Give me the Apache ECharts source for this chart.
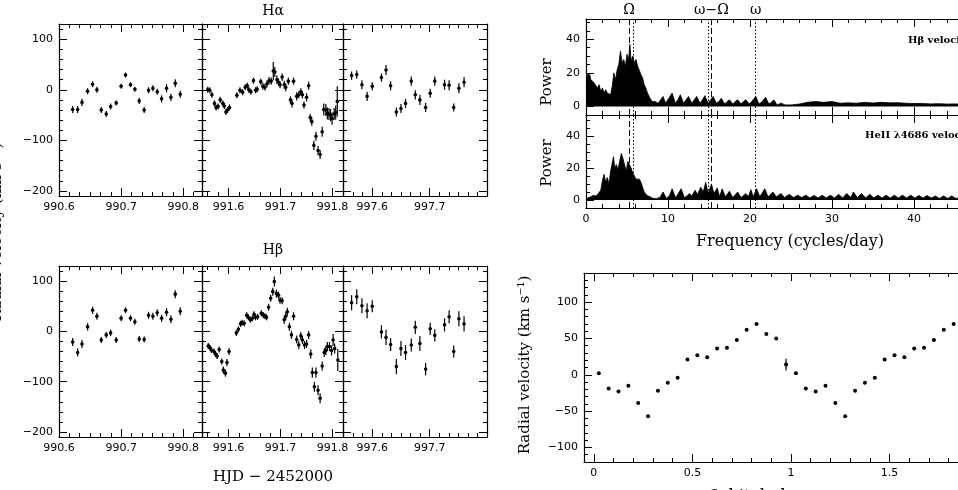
<!DOCTYPE html>
<html>
<head>
<meta charset="utf-8">
<script src="https://cdn.jsdelivr.net/npm/echarts@6/dist/echarts.min.js"></script>
<style>
  html, body { margin: 0; padding: 0; background: #fff; }
  #chart { width: 958px; height: 490px; }
</style>
</head>
<body>
<div id="chart"></div>
<script>
// ---------- data ----------
// H-alpha radial velocities, three nights (HJD - 2452000)
const haT1 = [990.622, 990.630, 990.637, 990.646, 990.654, 990.661, 990.668, 990.676, 990.683, 990.692, 990.700, 990.707,
  990.715, 990.722, 990.729, 990.737, 990.744, 990.751, 990.758, 990.765, 990.773, 990.780, 990.787, 990.795];
const haV1 = [-39, -39, -25, -3, 11, 0, -40, -48, -33, -26, 7, 29, 10, 1, -22, -40, -1, 3, -4, -18, 3, -15, 13, -9];
const haE1 = [7, 7, 7, 6, 6, 6, 6, 6, 6, 5, 5, 5, 5, 5, 6, 6, 6, 6, 6, 7, 8, 7, 8, 7];

const haT2 = [991.560, 991.564, 991.568, 991.573, 991.576, 991.580, 991.584, 991.589, 991.592, 991.595, 991.598, 991.602,
  991.616, 991.622, 991.627, 991.632, 991.636, 991.639, 991.643, 991.648, 991.652, 991.655,
  991.662, 991.666, 991.670, 991.674, 991.678, 991.682, 991.686, 991.689, 991.693, 991.696, 991.699, 991.703,
  991.707, 991.710, 991.715, 991.719, 991.722, 991.725, 991.731, 991.735, 991.739, 991.742, 991.745, 991.750,
  991.754, 991.757, 991.760, 991.764, 991.768, 991.772, 991.776, 991.780, 991.783, 991.787, 991.790, 991.793,
  991.796, 991.799, 991.803, 991.806, 991.809];
const haV2 = [0, -1, -10, -27, -35, -33, -20, -27, -32, -44, -40, -35,
  -11, -1, -5, 5, 8, 0, -4, 18, -1, 1,
  16, 7, 5, 12, 18, 17, 37, 35, 20, 15, 10, 25,
  10, 5, 17, -20, -27, 17, -13, -10, -4, -10, -30, -15,
  8, -55, -63, -110, -92, -120, -128, -83, -39, -40, -47, -48,
  -50, -57, -48, -45, -23];
const haE2 = [6, 6, 6, 6, 6, 6, 6, 6, 6, 6, 6, 6,
  6, 6, 6, 6, 6, 6, 6, 6, 6, 6,
  6, 7, 7, 7, 7, 7, 18, 10, 8, 7, 7, 7,
  8, 8, 7, 7, 8, 7, 8, 7, 7, 7, 7, 8,
  8, 7, 8, 9, 9, 9, 9, 10, 12, 12, 12, 12,
  12, 12, 12, 14, 30];

const haT3 = [997.564, 997.573, 997.582, 997.591, 997.600, 997.616, 997.624, 997.632, 997.642, 997.650, 997.658,
  997.668, 997.675, 997.683, 997.693, 997.701, 997.709, 997.726, 997.734, 997.742, 997.751, 997.760];
const haV3 = [28, 30, 10, -13, 7, 24, 39, 8, -44, -37, -27, 17, -10, -20, -35, -7, 17, 10, 9, -35, 3, 15];
const haE3 = [8, 8, 9, 9, 8, 8, 10, 9, 9, 9, 9, 9, 9, 10, 9, 9, 9, 10, 10, 8, 10, 10];

// H-beta radial velocities
const hbT1 = haT1;
const hbV1 = [-21, -42, -25, 9, 42, 30, -17, -7, -3, -17, 26, 42, 26, 19, -15, -16, 32, 30, 37, 26, 38, 24, 74, 40];
const hbE1 = [8, 8, 8, 7, 7, 7, 6, 6, 6, 6, 6, 6, 6, 6, 6, 6, 7, 7, 7, 7, 8, 8, 8, 8];

const hbT2 = [991.561, 991.564, 991.567, 991.572, 991.575, 991.578, 991.582, 991.587, 991.590, 991.594, 991.597, 991.601,
  991.615, 991.619, 991.623, 991.626, 991.630, 991.635, 991.638, 991.642, 991.646, 991.649, 991.652, 991.656,
  991.663, 991.667, 991.670, 991.673, 991.677, 991.681, 991.685, 991.688, 991.692, 991.696, 991.699, 991.703,
  991.707, 991.710, 991.713, 991.717, 991.721, 991.725, 991.731, 991.735, 991.739, 991.742, 991.746, 991.750,
  991.754, 991.758, 991.761, 991.765, 991.768, 991.772, 991.776, 991.780, 991.784, 991.787, 991.790, 991.794,
  991.798, 991.801, 991.804, 991.810];
const hbV2 = [-29, -32, -37, -40, -45, -49, -36, -60, -77, -83, -62, -40,
  -3, 4, 15, 17, 16, 32, 28, 23, 26, 34, 28, 29,
  36, 32, 30, 28, 48, 66, 79, 99, 75, 72, 62, 61,
  23, 30, 39, 9, -7, 30, -16, -27, -9, -17, -27, -25,
  -7, -45, -82, -110, -82, -117, -133, -69, -42, -38, -30, -30,
  -38, -17, -34, -57];
const hbE2 = [6, 6, 6, 6, 6, 6, 6, 6, 7, 7, 7, 7,
  6, 6, 6, 6, 6, 6, 6, 6, 6, 6, 6, 6,
  6, 6, 6, 6, 7, 7, 8, 10, 8, 7, 7, 7,
  8, 8, 8, 8, 8, 8, 8, 8, 8, 8, 8, 8,
  8, 9, 10, 10, 10, 10, 10, 9, 9, 9, 9, 9,
  10, 12, 10, 22];

const hbT3 = haT3;
const hbV3 = [57, 69, 51, 41, 50, -1, -12, -26, -70, -34, -42, -27, 8, -24, -75, 5, -8, 13, 29, -40, 25, 15];
const hbE3 = [15, 15, 15, 15, 12, 13, 15, 13, 15, 15, 15, 13, 13, 15, 12, 12, 12, 13, 13, 12, 15, 15];

// periodograms: frequency (cycles/day) vs power (outer envelope)
const hbFreq = [0, 0.2, 0.4, 0.6, 0.8, 1.0, 1.2, 1.4, 1.6, 1.8, 2.0, 2.2, 2.4, 2.6, 2.8, 3.0, 3.2, 3.4, 3.6, 3.8,
  4.0, 4.2, 4.4, 4.6, 4.8, 5.0, 5.2, 5.35, 5.5, 5.7, 5.9, 6.1, 6.3, 6.5, 6.7, 6.9, 7.1, 7.3, 7.5, 7.8,
  8.1, 8.4, 8.8, 9.1, 9.4, 9.7, 10.1, 10.5, 10.9, 11.2, 11.5, 11.9, 12.2, 12.5, 12.9, 13.2, 13.5, 13.9,
  14.2, 14.5, 14.9, 15.2, 15.5, 15.9, 16.2, 16.5, 16.9, 17.2, 17.5, 17.9, 18.2, 18.5, 18.9, 19.2, 19.5,
  19.9, 20.2, 20.7, 21.1, 21.5, 21.9, 22.3, 22.6, 22.9, 23.3, 23.8, 24.3, 25, 26, 27, 28, 29, 30, 31,
  32, 33, 34, 35, 36, 37, 38, 39, 40, 41, 42, 43, 44, 45, 46, 48, 50];
const hbPower = [21, 18, 20, 16, 17, 14, 15, 11, 13, 9, 11, 8, 10, 8, 9, 7, 12, 20, 16, 22,
  25, 33, 26, 28, 24, 31, 28, 37, 27, 30, 26, 28, 24, 25, 19, 17, 13, 11, 8, 5,
  3, 3, 2, 4, 6, 2, 5, 8, 2, 4, 7, 2, 4, 6, 2, 4, 6, 2,
  4, 6.5, 2, 4, 6, 2, 3, 5, 1.5, 3, 4, 1.5, 3, 4, 1.5, 3, 4,
  1.5, 3, 6, 1.5, 3, 5.5, 1.5, 2.5, 4, 1, 2, 1, 1, 1.5, 2.5, 3, 2.5, 3, 2,
  2.2, 2, 2.5, 2.1, 2.5, 2.2, 2.3, 2, 1.8, 1.9, 1.6, 1.7, 1.5, 1.6, 1.3, 1.2, 1.2];
// inner (lower) envelope under the strongest peaks
const hbLowFreq = [3.2, 3.6, 4.0, 4.4, 4.8, 5.2, 5.6, 6.0, 6.4, 6.8];
const hbLowPower = [1, 2.5, 3.5, 4.2, 4.6, 4.6, 4.2, 3.5, 2.2, 1];

const heFreq = [0, 0.3, 0.6, 0.9, 1.2, 1.5, 1.8, 2.0, 2.2, 2.4, 2.6, 2.8, 3.0, 3.2, 3.35, 3.5, 3.7, 3.9, 4.1, 4.3,
  4.5, 4.7, 4.9, 5.1, 5.3, 5.5, 5.7, 5.9, 6.1, 6.3, 6.5, 6.7, 6.9, 7.1, 7.4, 7.8, 8.2, 8.6, 9.0, 9.4,
  9.8, 10.2, 10.5, 10.9, 11.2, 11.6, 12.0, 12.3, 12.6, 12.9, 13.3, 13.6, 14.0, 14.3, 14.6, 14.9, 15.3, 15.6,
  16.0, 16.3, 16.6, 17.0, 17.5, 17.9, 18.5, 18.9, 19.5, 19.8, 20.1, 20.4, 20.8, 21.2, 21.8, 22.2, 22.8,
  23.2, 23.8, 24.2, 24.8, 25.3, 25.8, 26.3, 26.8, 27.3, 27.8, 28.3, 28.8, 29.3, 29.8, 30.3, 30.8, 31.3,
  31.8, 32.3, 32.6, 33.1, 33.6, 34.1, 34.6, 35.1, 35.6, 36.1, 36.6, 37.1, 37.6, 38.1, 38.6, 39.1, 39.6,
  40.1, 40.6, 41.1, 41.6, 42.1, 42.6, 43.1, 43.6, 44.1, 44.6, 45.1, 46, 47, 48, 49, 50];
const hePower = [0.5, 1.5, 2, 3, 2.5, 4, 6, 12, 16, 11, 14, 10, 18, 23, 27, 20, 22, 19, 24, 29,
  26, 22, 18, 24, 25, 20, 17, 15, 13, 12, 13, 11, 8, 5, 3, 2, 1, 1, 1.5, 5,
  1, 3, 7, 1.5, 3.5, 7, 1.5, 2.5, 4, 2.5, 6, 3.5, 8, 5, 11, 4, 10, 4,
  7.5, 2, 7, 2, 5.5, 1.5, 5, 1.5, 4, 2, 6.5, 2, 7, 2, 7, 2, 5,
  2, 4, 1.5, 3.5, 1.5, 3, 1.5, 3, 1.3, 2.8, 1.3, 3, 1.3, 3, 1.3, 3.5, 1.3,
  4, 1.5, 5, 1.5, 4, 1.3, 3.5, 1.3, 3, 1.2, 3, 1.2, 3, 1.2, 3, 1.2, 3,
  1.2, 2.8, 1.2, 2.8, 1.2, 2.5, 1, 2.5, 1, 2.5, 1, 2, 1, 2, 1, 1.5];
const heLowFreq = [2.4, 2.8, 3.2, 3.6, 4.0, 4.4, 4.8, 5.2, 5.6, 6.0, 6.4, 6.8, 7.0];
const heLowPower = [1, 2, 3, 3.6, 4, 4.2, 4.3, 4.3, 4.2, 4, 3.4, 2.2, 1];

// marked frequencies
const dashedFreqs = [5.24, 15.3];
const dottedFreqs = [5.73, 14.9, 20.7];
const markNames = ['Ω', 'ω−Ω', 'ω'];
const markFreqs = [5.24, 15.3, 20.7];

// H-beta velocity folded on the orbital period (phase bins)
const rvPhase = [0.025, 0.075, 0.125, 0.175, 0.225, 0.275, 0.325, 0.375, 0.425, 0.475,
  0.525, 0.575, 0.625, 0.675, 0.725, 0.775, 0.825, 0.875, 0.925, 0.975];
const rvVel = [2, -19, -23, -15, -39, -57, -22, -11, -4, 21, 27, 24, 36, 37, 48, 62, 70, 56, 50, 14];
const rvErr = [1, 1, 1, 1, 1, 1, 1, 1, 1, 1, 1, 1, 1, 1, 1, 1, 1, 1, 1, 8];

// ---------- layout helpers ----------
const TICK_FONT = 'DejaVu Sans';
const TEXT_FONT = 'DejaVu Serif';

function steps(start, end, step) {
  const out = [];
  for (let v = start; v <= end + 1e-9; v += step) out.push(+v.toFixed(6));
  return out;
}
const minus = v => String(v).replace('-', '\u2212');

const grids = [], xAxes = [], yAxes = [];

function axis(gi, pos, r, major, showLabels) {
  return {
    gridIndex: gi, type: 'value', position: pos, min: r.min, max: r.max,
    axisLine: { show: major, onZero: false, lineStyle: { color: '#000', width: 1.2 } },
    axisTick: {
      show: true, inside: true, length: major ? 8 : 4,
      customValues: major ? r.major : r.minor,
      lineStyle: { color: '#000', width: 1 }
    },
    axisLabel: {
      show: !!showLabels, customValues: r.major, margin: 6,
      color: '#000', fontFamily: TICK_FONT, fontSize: 11,
      formatter: r.fmt || minus
    },
    splitLine: { show: false }
  };
}

function panel(box, xr, yr, xLabels, yLabels) {
  const gi = grids.length;
  grids.push({
    left: box[0], top: box[1], width: box[2], height: box[3],
    containLabel: false, outerBoundsMode: 'none'
  });
  const xi = xAxes.length, yi = yAxes.length;
  xAxes.push(axis(gi, 'bottom', xr, true, xLabels), axis(gi, 'bottom', xr, false, false),
    axis(gi, 'top', xr, true, false), axis(gi, 'top', xr, false, false));
  yAxes.push(axis(gi, 'left', yr, true, yLabels), axis(gi, 'left', yr, false, false),
    axis(gi, 'right', yr, true, false), axis(gi, 'right', yr, false, false));
  return { xi, yi };
}

const fix1 = v => v.toFixed(1);
const velRange = { min: -210, max: 130, major: [-200, -100, 0, 100], minor: steps(-200, 120, 20) };
const night1 = { min: 990.6, max: 990.83, major: [990.6, 990.7, 990.8], minor: steps(990.6, 990.83, 0.1 / 6), fmt: fix1 };
const night2 = { min: 991.549, max: 991.82, major: [991.6, 991.7, 991.8], minor: steps(991.56, 991.82, 0.02), fmt: fix1 };
const night3 = { min: 997.549, max: 997.8, major: [997.6, 997.7], minor: steps(997.55, 997.8, 0.1 / 6), fmt: fix1 };
const freqRange = { min: 0, max: 50, major: [0, 10, 20, 30, 40, 50], minor: steps(0, 50, 2) };
const powTop = { min: -5, max: 52, major: [0, 20, 40], minor: steps(0, 50, 5) };
const powBot = { min: -5, max: 53, major: [0, 20, 40], minor: steps(0, 50, 5) };
const phaseRange = { min: -0.05, max: 2.05, major: [0, 0.5, 1, 1.5, 2], minor: steps(0, 2, 0.1) };
const rvRange = { min: -120, max: 140, major: [-100, -50, 0, 50, 100], minor: steps(-120, 140, 10) };

const pHa1 = panel([59, 24, 143, 172], night1, velRange, true, true);
const pHa2 = panel([202, 24, 141, 172], night2, velRange, true, false);
const pHa3 = panel([343, 24, 144, 172], night3, velRange, true, false);
const pHb1 = panel([59, 266, 143, 171], night1, velRange, true, true);
const pHb2 = panel([202, 266, 141, 171], night2, velRange, true, false);
const pHb3 = panel([343, 266, 144, 171], night3, velRange, true, false);
const pPerTop = panel([586, 19, 410, 96], freqRange, powTop, false, true);
const pPerBot = panel([586, 115, 410, 93], freqRange, powBot, true, true);
const pRv = panel([584, 273, 414, 189], phaseRange, rvRange, true, true);

function errorBars(p, t, v, e, r) {
  return {
    type: 'custom', xAxisIndex: p.xi, yAxisIndex: p.yi, clip: true,
    data: t.map((x, i) => [x, v[i], e[i]]),
    renderItem: function (params, api) {
      const x = api.value(0), y = api.value(1), err = api.value(2);
      const c = api.coord([x, y]);
      const hi = api.coord([x, y + err]);
      const lo = api.coord([x, y - err]);
      return {
        type: 'group',
        children: [
          { type: 'line', shape: { x1: c[0], y1: hi[1], x2: c[0], y2: lo[1] }, style: { stroke: '#000', lineWidth: 1.2 } },
          { type: 'circle', shape: { cx: c[0], cy: c[1], r: r || 1.8 }, style: { fill: '#000' } }
        ]
      };
    }
  };
}

function markLines() {
  const data = [];
  dashedFreqs.forEach(f => data.push({ xAxis: f, lineStyle: { type: [6, 3], color: '#000', width: 1 } }));
  dottedFreqs.forEach(f => data.push({ xAxis: f, lineStyle: { type: [1.5, 2], color: '#000', width: 1 } }));
  return { silent: true, symbol: ['none', 'none'], label: { show: false }, animation: false, data: data };
}

function periodogram(p, f, pw) {
  return {
    type: 'line', xAxisIndex: p.xi, yAxisIndex: p.yi, clip: true,
    data: f.map((x, i) => [x, pw[i]]),
    showSymbol: false, symbol: 'none',
    lineStyle: { color: '#000', width: 0.8 },
    areaStyle: { color: '#000', opacity: 1 },
    markLine: markLines()
  };
}

// white gap between the zero line and the inner envelope, one polygon
function innerGap(p, f, pw) {
  const base = 0.8;
  return {
    type: 'custom', xAxisIndex: p.xi, yAxisIndex: p.yi, silent: true,
    data: f.map((x, i) => [x, pw[i]]),
    renderItem: function (params, api) {
      if (params.dataIndex !== 0) return null;
      const upper = f.map((x, i) => api.coord([x, pw[i]]));
      const lower = f.slice().reverse().map(x => api.coord([x, base]));
      return { type: 'polygon', shape: { points: upper.concat(lower) }, style: { fill: '#fff' } };
    }
  };
}

const rvT = rvPhase.concat(rvPhase.map(ph => ph + 1));
const rvV = rvVel.concat(rvVel);
const rvE = rvErr.concat(rvErr);

const series = [
  errorBars(pHa1, haT1, haV1, haE1),
  errorBars(pHa2, haT2, haV2, haE2),
  errorBars(pHa3, haT3, haV3, haE3),
  errorBars(pHb1, hbT1, hbV1, hbE1),
  errorBars(pHb2, hbT2, hbV2, hbE2),
  errorBars(pHb3, hbT3, hbV3, hbE3),
  periodogram(pPerTop, hbFreq, hbPower),
  periodogram(pPerBot, heFreq, hePower),
  innerGap(pPerTop, hbLowFreq, hbLowPower),
  innerGap(pPerBot, heLowFreq, heLowPower),
  errorBars(pRv, rvT, rvV, rvE, 2)
];

function txt(x, y, text, opts) {
  opts = opts || {};
  return {
    type: 'text', x: x, y: y, rotation: opts.rot || 0, silent: true,
    style: {
      text: text, fill: '#000',
      font: (opts.weight || 'normal') + ' ' + (opts.size || 15) + 'px "' + (opts.family || TEXT_FONT) + '"',
      align: opts.align || 'center', verticalAlign: 'middle',
      textAlign: opts.align || 'center', textVerticalAlign: 'middle'
    }
  };
}

const graphic = [
  txt(273, 11, 'Hα', { size: 14 }),
  txt(273, 250, 'Hβ', { size: 14 }),
  txt(273, 477, 'HJD − 2452000', { size: 15 }),
  txt(-3, 232, 'Radial velocity (km s⁻¹)', { rot: Math.PI / 2 }),
  txt(547, 82, 'Power', { rot: Math.PI / 2 }),
  txt(547, 163, 'Power', { rot: Math.PI / 2 }),
  txt(790, 242, 'Frequency (cycles/day)', { size: 16 }),
  txt(525, 365, 'Radial velocity (km s⁻¹)', { rot: Math.PI / 2 }),
  txt(763, 497, 'Orbital phase', { size: 16 }),
  txt(908, 40, 'Hβ velocities', { size: 10, weight: 'bold', align: 'left' }),
  txt(865, 135, 'HeII λ4686 velocities', { size: 10, weight: 'bold', align: 'left' })
];

const chart = echarts.init(document.getElementById('chart'));
chart.setOption({
  backgroundColor: '#fff',
  animation: false,
  grid: grids,
  xAxis: xAxes,
  yAxis: yAxes,
  series: series,
  graphic: graphic
});

// frequency labels above the periodogram, placed through the axis scale
markFreqs.forEach((f, i) => {
  const px = chart.convertToPixel({ xAxisIndex: pPerTop.xi }, f);
  graphic.push(txt(px, 10, markNames[i], { size: 14 }));
});
chart.setOption({ graphic: graphic });
</script>
</body>
</html>
